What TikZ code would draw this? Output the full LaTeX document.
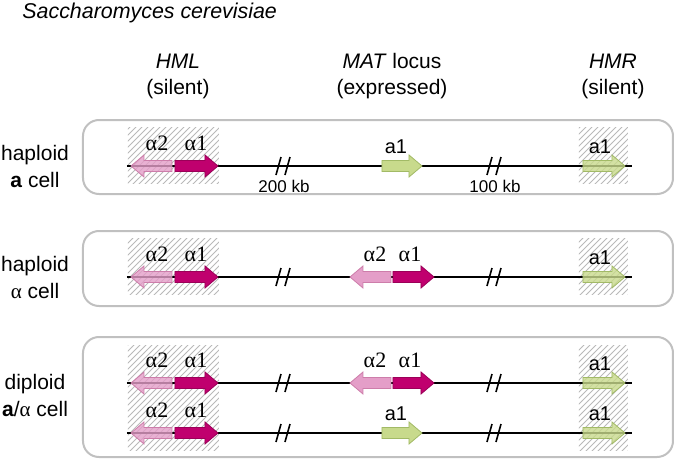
\documentclass[tikz,border=0pt]{standalone}
\usepackage{fontspec}
\setmainfont{Liberation Sans}
\newfontfamily\grk{Liberation Serif}
\usetikzlibrary{patterns}

\definecolor{boxgray}{RGB}{192,192,192}
\definecolor{pinkfill}{RGB}{228,158,200}
\definecolor{pinkedge}{RGB}{205,125,170}
\definecolor{magfill}{RGB}{192,0,110}
\definecolor{magedge}{RGB}{155,0,88}
\definecolor{grnfill}{RGB}{200,218,140}
\definecolor{grnedge}{RGB}{162,186,102}

\newcommand{\generight}[4]{\draw[#1] (#2,#4-5.5) -- (#3-13,#4-5.5) -- (#3-13,#4-11) -- (#3,#4) -- (#3-13,#4+11) -- (#3-13,#4+5.5) -- (#2,#4+5.5) -- cycle;}
\newcommand{\geneleft}[4]{\draw[#1] (#2,#4) -- (#2+13,#4-11) -- (#2+13,#4-5.5) -- (#3,#4-5.5) -- (#3,#4+5.5) -- (#2+13,#4+5.5) -- (#2+13,#4+11) -- cycle;}

\begin{document}
\begin{tikzpicture}[x=0.5pt, y=-0.5pt,
	cellbox/.style={draw=boxgray, line width=1pt, rounded corners=8pt},
	chrom/.style={line width=0.8pt},
	hatch/.style={pattern=north east lines, pattern color=gray!55},
	atwo/.style={draw=pinkedge, fill=pinkfill, line width=0.4pt},
	aone/.style={draw=magedge, fill=magfill, line width=0.4pt},
	aa/.style={draw=grnedge, fill=grnfill, line width=0.4pt},
	silent/.style={fill opacity=0.8},
	alab/.style={anchor=base, inner sep=0pt, font=\grk\fontsize{11}{13}\selectfont},
	glab/.style={anchor=base, inner sep=0pt, font=\fontsize{10}{12}\selectfont},
	kblab/.style={anchor=base, inner sep=0pt, font=\fontsize{8.5}{10}\selectfont},
	head/.style={align=center, inner sep=0pt, font=\fontsize{10.5}{13}\selectfont},
	side/.style={align=center, inner sep=0pt, font=\fontsize{10.5}{13.5}\selectfont}]
	\useasboundingbox (0,0) rectangle (677,461);

	\node[anchor=west, inner sep=0pt, font=\itshape\fontsize{10.7}{13}\selectfont] (title) at (22,13) {Saccharomyces cerevisiae};
	\node[head] (hml) at (178,76) {\textit{HML}\\(silent)};
	\node[head] (mat) at (392,76) {\textit{MAT} locus\\(expressed)};
	\node[head] (hmr) at (613,76) {\textit{HMR}\\(silent)};

	\node[side] (cell1) at (35,166) {haploid\\\textbf{a} cell};
	\node[side] (cell2) at (35,277) {haploid\\{\grk α} cell};
	\node[side] (cell3) at (35,395) {diploid\\\textbf{a}/{\grk α} cell};

	\draw[cellbox] (83,120) rectangle (673,194);
	\draw[cellbox] (83,231) rectangle (673,306);
	\draw[cellbox] (83,337) rectangle (673,457);

	\fill[hatch] (128,127) rectangle (219,183);
	\fill[hatch] (579,127) rectangle (628,183);
	\fill[hatch] (128,238) rectangle (219,294);
	\fill[hatch] (579,238) rectangle (628,294);
	\fill[hatch] (128,345) rectangle (219,450);
	\fill[hatch] (579,345) rectangle (628,450);

	\foreach \y in {166,277,383,433} {
		\coordinate (s\y) at (127,\y);
		\coordinate (e\y) at (632,\y);
		\draw[chrom] (s\y) -- (e\y);
		\foreach \b in {283,494}
			\draw[chrom] (\b-7,\y+9) -- (\b-2,\y-9) (\b+2,\y+9) -- (\b+7,\y-9);
		\geneleft{atwo,silent}{131}{172}{\y}
		\generight{aone}{175}{218}{\y}
		\generight{aa,silent}{583}{625}{\y}
		\node[alab] (hml2\y) at (157,\y-16) {α2};
		\node[alab] (hml1\y) at (196,\y-16) {α1};
		\node[glab] (hmr\y) at (600,\y-13) {a1};
	}

	\generight{aa}{382}{422}{166}
	\node[glab] (mat166) at (396,153) {a1};
	\node[kblab] (kb200) at (284,192) {200 kb};
	\node[kblab] (kb100) at (495,192) {100 kb};

	\geneleft{atwo}{350}{391}{277}
	\generight{aone}{393}{434}{277}
	\node[alab] (mat2277) at (375,261) {α2};
	\node[alab] (mat1277) at (410,261) {α1};

	\geneleft{atwo}{350}{391}{383}
	\generight{aone}{393}{434}{383}
	\node[alab] (mat2383) at (375,367) {α2};
	\node[alab] (mat1383) at (410,367) {α1};

	\generight{aa}{382}{422}{433}
	\node[glab] (mat433) at (396,420) {a1};
\end{tikzpicture}
\end{document}
